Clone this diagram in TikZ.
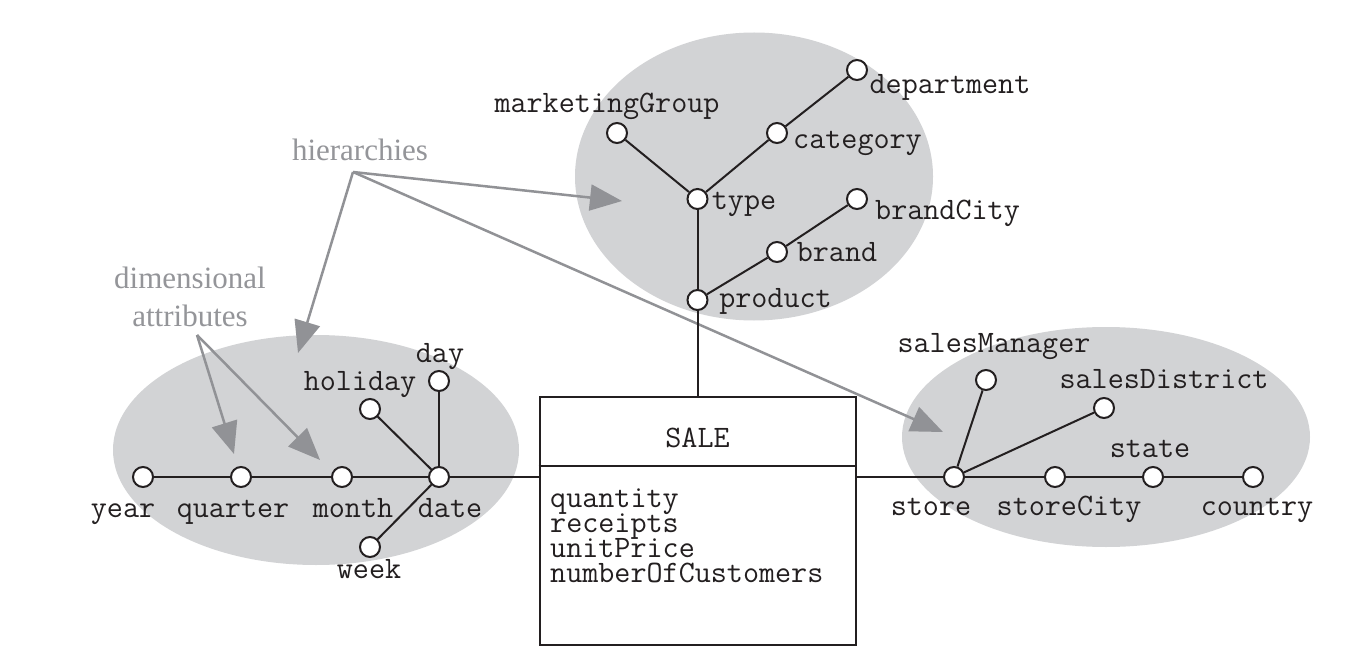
\documentclass[tikz,border=0pt]{standalone}
\usepackage{fontspec}
\setmainfont{Liberation Serif}
\usetikzlibrary{arrows.meta,calc}
\definecolor{ellfill}{RGB}{210,211,213}
\definecolor{arrgray}{RGB}{145,146,150}
\definecolor{txtgray}{RGB}{148,149,153}
\definecolor{ink}{RGB}{35,31,32}
\begin{document}
\begin{tikzpicture}[x=1pt,y=-1pt,
  attr/.style={circle,draw=ink,fill=white,line width=2pt,minimum size=20pt,inner sep=0pt},
  lbl/.style={font=\fontsize{31.2}{34}\selectfont\ttfamily,text=ink,inner sep=0pt,anchor=base},
  rows/.style={font=\fontsize{31.2}{34}\selectfont\ttfamily,text=ink,inner sep=0pt,anchor=base west},
  note/.style={font=\fontsize{31}{36}\selectfont,text=txtgray,inner sep=0pt,anchor=base},
  link/.style={draw=ink,line width=2pt},
  pointer/.style={draw=arrgray,line width=2.5pt,-{Triangle[length=32pt,width=26pt]}},
  blob/.style={fill=ellfill}]

\useasboundingbox (0,0) rectangle (1370,655);
\fill[white] (0,0) rectangle (1370,655);

% shaded hierarchy regions
\fill[blob] (316,450) ellipse [x radius=203pt,y radius=115pt];
\fill[blob] (754,176.5) ellipse [x radius=179pt,y radius=144pt];
\fill[blob] (1106,437) ellipse [x radius=204pt,y radius=110pt];

% gray annotations
\node[note] (hiertext) at (360,161) {hierarchies};
\node[note] (dimA) at (190,288) {dimensional};
\node[note] (dimB) at (190,326) {attributes};
\coordinate (hierpt) at (353,172);
\coordinate (dimpt) at (197,335);
\coordinate (tipTop) at (622,201);
\coordinate (tipLeft) at (298,353);
\coordinate (tipRight) at (943,432);
\coordinate (tipQ) at (234,454);
\coordinate (tipM) at (320,460);
\draw[pointer] (hierpt) -- (tipTop);
\draw[pointer] (hierpt) -- (tipLeft);
\draw[pointer] (hierpt) -- (tipRight);
\draw[pointer] (dimpt) -- (tipQ);
\draw[pointer] (dimpt) -- (tipM);

% fact box
\node[draw=ink,line width=2pt,minimum width=316pt,minimum height=248pt,inner sep=0pt] (sale) at (697.5,521) {};
\draw[link] ($(sale.north west)+(0,70)$) -- ($(sale.north east)+(0,70)$);
\node[lbl] (saletitle) at (697.5,447) {SALE};
\node[rows] (measures) at (550,507) {\vtop{\baselineskip=25pt\lineskiplimit=-20pt
  \hbox{quantity}\hbox{receipts}\hbox{unitPrice}\hbox{numberOfCustomers}}};

% left hierarchy
\node[attr] (year) at (143,477) {};
\node[attr] (quarter) at (241,477) {};
\node[attr] (month) at (342,477) {};
\node[attr] (date) at (439,477) {};
\node[attr] (holiday) at (370,409) {};
\node[attr] (day) at (439,381) {};
\node[attr] (week) at (370,547) {};

% top hierarchy
\node[attr] (product) at (697.5,300) {};
\node[attr] (type) at (697.5,199) {};
\node[attr] (mgroup) at (617,133) {};
\node[attr] (category) at (777,133) {};
\node[attr] (department) at (857,70) {};
\node[attr] (brand) at (777,252) {};
\node[attr] (brandcity) at (857,199) {};

% right hierarchy
\node[attr] (store) at (954,477) {};
\node[attr] (storecity) at (1055,477) {};
\node[attr] (state) at (1153,477) {};
\node[attr] (country) at (1253,477) {};
\node[attr] (salesmanager) at (986,380) {};
\node[attr] (salesdistrict) at (1104,408) {};

% connectors
\draw[link] (year) -- (quarter) -- (month) -- (date);
\draw[link] (date) -- (holiday);
\draw[link] (date) -- (day);
\draw[link] (date) -- (week);
\draw[link] (date) -- (sale.west |- date);
\draw[link] (sale.east |- store) -- (store);
\draw[link] (store) -- (storecity) -- (state) -- (country);
\draw[link] (store) -- (salesmanager);
\draw[link] (store) -- (salesdistrict);
\draw[link] (product) -- (sale.north);
\draw[link] (product) -- (type);
\draw[link] (type) -- (mgroup);
\draw[link] (type) -- (category) -- (department);
\draw[link] (product) -- (brand) -- (brandcity);

% labels
\node[lbl] (lyear) at (123,517) {year};
\node[lbl] (lquarter) at (233,517) {quarter};
\node[lbl] (lmonth) at (353,517) {month};
\node[lbl] (ldate) at (450,517) {date};
\node[lbl] (lweek) at (369,578) {week};
\node[lbl] (lholiday) at (360,390) {holiday};
\node[lbl] (lday) at (440,362) {day};

\node[lbl] (lmgroup) at (607,113) {marketingGroup};
\node[lbl] (ldepartment) at (950,94) {department};
\node[lbl] (lcategory) at (857.5,149) {category};
\node[lbl] (ltype) at (744,210) {type};
\node[lbl] (lbrandcity) at (947.5,219) {brandCity};
\node[lbl] (lbrand) at (837,261) {brand};
\node[lbl] (lproduct) at (775.5,307) {product};

\node[lbl] (lsalesmanager) at (994,352) {salesManager};
\node[lbl] (lsalesdistrict) at (1164,388) {salesDistrict};
\node[lbl] (lstate) at (1150,457) {state};
\node[lbl] (lstore) at (931,515) {store};
\node[lbl] (lstorecity) at (1069,515) {storeCity};
\node[lbl] (lcountry) at (1257,515) {country};
\end{tikzpicture}
\end{document}
